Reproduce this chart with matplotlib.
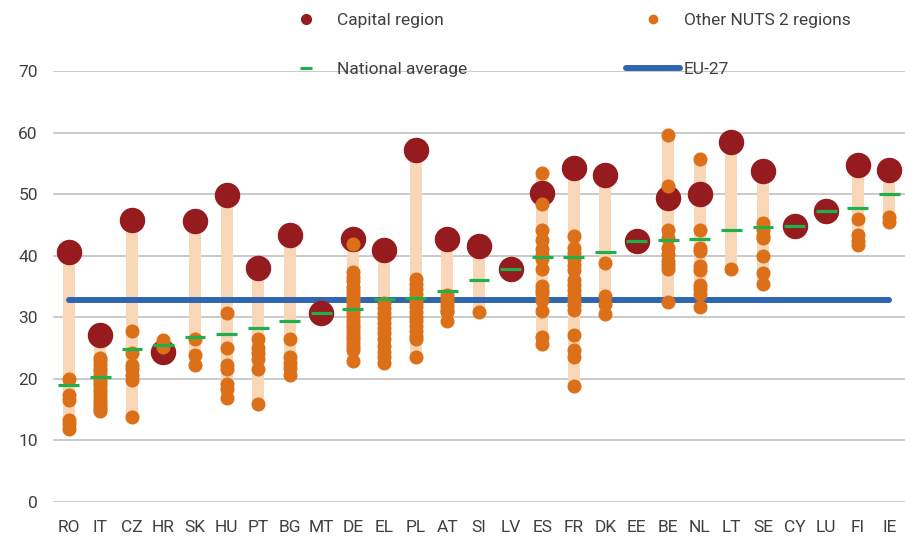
import matplotlib.pyplot as plt
from matplotlib.lines import Line2D
import numpy as np

plt.rcParams['font.family'] = ['Roboto', 'DejaVu Sans']

countries = ['RO', 'IT', 'CZ', 'HR', 'SK', 'HU', 'PT', 'BG', 'MT', 'DE', 'EL', 'PL', 'AT', 'SI',
             'LV', 'ES', 'FR', 'DK', 'EE', 'BE', 'NL', 'LT', 'SE', 'CY', 'LU', 'FI', 'IE']

capital = [40.6, 27.1, 45.8, 24.4, 45.6, 49.8, 38.0, 43.3, 30.6, 42.7, 40.9, 57.2, 42.7, 41.6,
           37.8, 50.2, 54.3, 53.1, 42.3, 49.3, 50.0, 58.4, 53.7, 44.9, 47.2, 54.7, 53.9]

national = [18.9, 20.2, 24.9, 25.4, 26.8, 27.3, 28.3, 29.3, 30.6, 31.4, 32.9, 33.1, 34.3, 36.0,
            37.8, 39.8, 39.8, 40.6, 42.3, 42.5, 42.7, 44.2, 44.7, 44.9, 47.2, 47.7, 50.0]

others = [
    [20.0, 17.3, 16.6, 13.3, 12.6, 11.9],                                    # RO
    [23.4, 22.8, 22.2, 21.6, 21.2, 20.6, 20.0, 19.4, 18.9, 18.3, 17.8,
     17.2, 16.6, 16.0, 15.5, 15.0, 14.8],                                    # IT
    [27.8, 24.2, 22.3, 21.6, 20.6, 19.8, 13.8],                              # CZ
    [26.3, 25.7, 25.2],                                                      # HR
    [26.5, 23.9, 22.3],                                                      # SK
    [30.7, 25.0, 22.2, 21.5, 19.2, 18.4, 16.8],                              # HU
    [26.5, 25.0, 24.2, 23.2, 21.6, 15.9],                                    # PT
    [26.5, 23.5, 22.6, 21.8, 20.6],                                          # BG
    [],                                                                      # MT
    [41.9, 37.4, 36.6, 35.8, 34.9, 34.2, 33.6, 33.0, 32.4, 31.8, 31.2, 30.6,
     30.0, 29.4, 28.8, 28.2, 27.6, 27.0, 26.4, 25.8, 25.2, 24.6, 22.8],      # DE
    [32.3, 31.5, 30.6, 29.8, 29.0, 28.2, 27.4, 26.4, 25.3, 24.4, 23.6, 22.6],  # EL
    [36.2, 35.4, 34.6, 33.8, 33.0, 32.3, 31.6, 30.8, 30.1, 29.4, 28.6, 27.8,
     27.0, 26.4, 23.6],                                                      # PL
    [33.6, 33.0, 32.4, 31.8, 31.2, 30.9, 29.3],                              # AT
    [30.9],                                                                  # SI
    [],                                                                      # LV
    [53.4, 48.4, 44.2, 42.5, 41.0, 40.1, 39.4, 37.9, 35.0, 34.4, 33.9, 32.8,
     31.0, 26.8, 25.6],                                                      # ES
    [43.2, 41.2, 40.4, 39.4, 38.5, 37.6, 36.0, 35.2, 34.4, 33.6, 32.8, 32.0,
     31.2, 27.1, 24.7, 23.5, 18.8],                                          # FR
    [38.8, 33.4, 32.2, 30.5],                                                # DK
    [],                                                                      # EE
    [59.6, 51.3, 44.2, 42.8, 41.2, 40.2, 39.2, 38.5, 37.9, 32.4],            # BE
    [55.7, 44.2, 41.3, 40.8, 38.3, 37.7, 35.3, 34.5, 33.8, 31.7],            # NL
    [37.8],                                                                  # LT
    [45.3, 44.2, 43.2, 42.8, 40.0, 37.1, 35.4],                              # SE
    [],                                                                      # CY
    [],                                                                      # LU
    [45.9, 43.4, 42.4, 41.7],                                                # FI
    [46.3, 45.5],                                                            # IE
]

eu27 = 32.8
yticks = [0, 10, 20, 30, 40, 50, 60, 70]

c_cap = '#951B1E'
c_oth = '#DC7019'
c_bar = '#F8D6B8'
c_avg = '#1FAF4B'
c_eu = '#2E66B0'
c_txt = '#404040'

fig = plt.figure(figsize=(9.05, 5.41), dpi=100)
ax = fig.add_axes([0.0586, 0.0726, 0.9414, 0.796])

x = np.arange(len(countries))

# range bars from lowest to highest region
lo = [min([c] + o) for c, o in zip(capital, others)]
hi = [max([c] + o) for c, o in zip(capital, others)]
ax.bar(x, np.array(hi) - np.array(lo), bottom=lo, width=0.38, color=c_bar, zorder=2)

ax.plot([x[0], x[-1]], [eu27, eu27], color=c_eu, lw=4.3, solid_capstyle='round', zorder=3)

ax.scatter(x, capital, s=300, color=c_cap, zorder=4, clip_on=False)
for i, vals in enumerate(others):
    ax.scatter([x[i]] * len(vals), vals, s=83, color=c_oth, zorder=5, clip_on=False)

ax.hlines(national, x - 0.33, x + 0.33, color=c_avg, lw=2.3, zorder=6)

ax.set_xlim(-0.5, len(countries) - 0.5)
ax.set_ylim(0, 70)
ax.set_yticks(yticks)
ax.set_xticks(x)
ax.set_xticklabels(countries)
ax.grid(axis='y', color='#C6C6C6', lw=1.3, zorder=0)
ax.set_axisbelow(True)
for s in ax.spines.values():
    s.set_visible(False)
ax.tick_params(length=0, labelsize=12.5, colors=c_txt, pad=13)
ax.tick_params(axis='y', pad=11)

handles = [
    Line2D([], [], ls='none', marker='o', ms=7, color=c_cap),
    Line2D([], [], ls='none', marker='_', ms=8, mew=2.2, color=c_avg),
    Line2D([], [], ls='none', marker='o', ms=6, color=c_oth),
    Line2D([], [], color=c_eu, lw=4.3, solid_capstyle='round'),
]
labels = ['Capital region', 'National average', 'Other NUTS 2 regions', 'EU-27']
fig.legend(handles, labels, ncol=2, loc='center', bbox_to_anchor=(0.624, 0.917),
           frameon=False, fontsize=12.5, labelcolor=c_txt, handlelength=3.1,
           handletextpad=0.25, columnspacing=9.15, labelspacing=1.94, borderpad=0)

fig.savefig('out.png', dpi=100)
